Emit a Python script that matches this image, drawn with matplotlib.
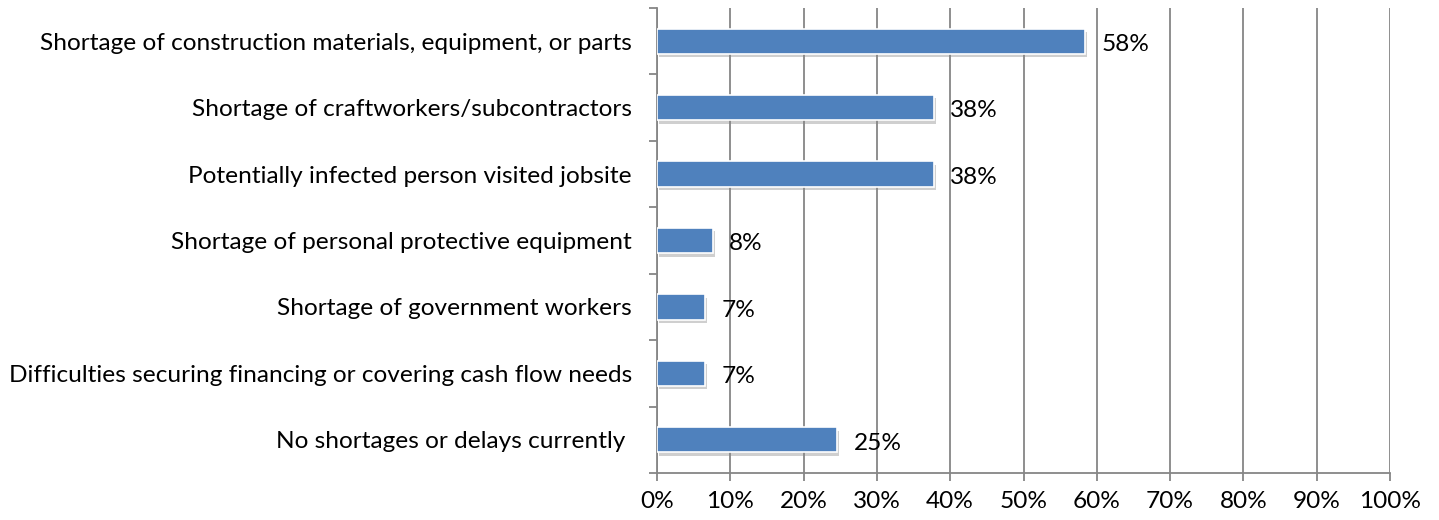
import matplotlib
matplotlib.use("Agg")
import matplotlib.pyplot as plt
import matplotlib.patheffects as pe
import numpy as np

categories = [
    "Shortage of construction materials, equipment, or parts",
    "Shortage of craftworkers/subcontractors",
    "Potentially infected person visited jobsite",
    "Shortage of personal protective equipment",
    "Shortage of government workers",
    "Difficulties securing financing or covering cash flow needs",
    "No shortages or delays currently ",
]
values = [58.4, 37.8, 37.8, 7.6, 6.6, 6.6, 24.6]
xticks = list(range(0, 101, 10))
xtick_labels = [f"{t}%" for t in xticks]

plt.rcParams['font.family'] = ['Lato', 'DejaVu Sans']
FS = 17.6
W, H = 1439, 520
fig = plt.figure(figsize=(W/100, H/100), dpi=100)
ax = fig.add_axes([657/W, 1-473/H, (1390-657)/W, (473-8)/H])

y = np.arange(len(categories))
bars = ax.barh(y, values, height=0.38, color="#4F81BD", edgecolor="white", linewidth=1.2, zorder=3)
for b in bars:
    b.set_path_effects([pe.SimplePatchShadow(offset=(1.5, -2.5), shadow_rgbFace="#888888", alpha=0.4), pe.Normal()])

for yi, v in zip(y, values):
    ax.text(v + 2.2, yi + 0.05, f"{v:.0f}%", va="center", ha="left", fontsize=FS, color="black", zorder=4)

ax.set_xlim(0, 100)
ax.set_ylim(len(categories) - 0.5, -0.5)
ax.set_xticks(xticks)
ax.set_xticklabels(xtick_labels, fontsize=FS)
ax.set_yticks(y)
ax.set_yticklabels(categories, fontsize=FS)
ax.set_yticks(np.arange(-0.5, len(categories), 1), minor=True)
ax.tick_params(axis='y', which='major', length=0, pad=18)
ax.tick_params(axis='y', which='minor', length=6, color="#868686", width=1.3)
ax.tick_params(axis='x', length=6, color="#868686", width=1.3, pad=7)

ax.xaxis.grid(True, color="#868686", linewidth=1.3, zorder=0)
ax.set_axisbelow(True)
for s in ["top", "right"]:
    ax.spines[s].set_visible(False)
for s in ["left", "bottom"]:
    ax.spines[s].set_color("#868686")
    ax.spines[s].set_linewidth(1.3)

fig.savefig("out.png", dpi=100)
